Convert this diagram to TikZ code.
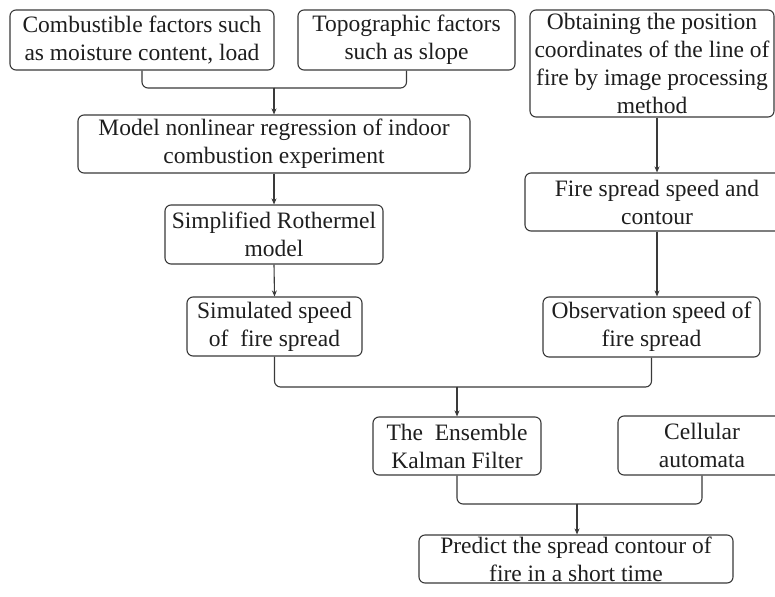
\documentclass[tikz,border=0pt]{standalone}
\usepackage{fontspec}
\setmainfont{Liberation Serif}
\usetikzlibrary{arrows.meta}
\definecolor{ln}{HTML}{3A3A3A}
\definecolor{tx}{HTML}{1E1E1E}
\begin{document}
\begin{tikzpicture}[x=1pt,y=-1pt,
  box/.style={draw=ln, line width=1.1pt, rounded corners=6pt, align=center,
    text=tx, font=\fontsize{23.5}{28}\selectfont, inner sep=0pt},
  conn/.style={draw=ln, line width=1.1pt, rounded corners=6pt},
  arr/.style={conn, -{Stealth[length=6pt,width=5pt]}}]
\useasboundingbox (0,0) rectangle (775,596);
\clip (0,0) rectangle (775,596);
\fill[white] (0,0) rectangle (775,596);
\node[box, minimum width=264pt, minimum height=60pt] (b1) at (142,40) {Combustible factors such\\as moisture content, load};
\node[box, minimum width=217pt, minimum height=60pt] (b2) at (406.5,40) {Topographic factors\\such as slope};
\node[box, minimum width=244pt, minimum height=107pt] (b3) at (652,63.5) {Obtaining the position\\coordinates of the line of\\fire by image processing\\method};
\node[box, minimum width=392pt, minimum height=58pt] (b4) at (274,144) {Model nonlinear regression of indoor\\combustion experiment};
\node[box, minimum width=218pt, minimum height=59pt] (b5) at (274,234.5) {Simplified Rothermel\\model};
\node[box, minimum width=175pt, minimum height=59pt] (b6) at (274.5,326.5) {Simulated speed\\of\ \ fire spread};
\node[box, minimum width=264pt, minimum height=58pt] (b10) at (657,202) {Fire spread speed and\\contour};
\node[box, minimum width=217pt, minimum height=60pt] (b11) at (651.5,327) {Observation speed of\\fire spread};
\node[box, minimum width=168pt, minimum height=58pt] (b7) at (457,446) {The\ \ Ensemble\\Kalman Filter};
\node[box, minimum width=168pt, minimum height=59pt] (b8) at (702,445.5) {Cellular\\automata};
\node[box, minimum width=314pt, minimum height=48pt] (b9) at (576,559) {Predict the spread contour of\\fire in a short time};
\coordinate (j1) at (274,88);
\coordinate (j2) at (457,387);
\coordinate (j3) at (577,504);
\draw[conn] (b1.south) |- (j1);
\draw[conn] (b2.south) |- (j1);
\draw[arr] (j1) -- (b4.north);
\draw[arr] (b4.south) -- (b5.north);
\draw[arr] (b5.south) -- (b6.north);
\draw[arr] (b10.north |- b3.south) -- (b10.north);
\draw[arr] (b10.south) -- (b10.south |- b11.north);
\draw[conn] (b6.south) |- (j2);
\draw[conn] (b11.south) |- (j2);
\draw[arr] (j2) -- (b7.north);
\draw[conn] (b7.south) |- (j3);
\draw[conn] (b8.south) |- (j3);
\draw[arr] (j3) -- (b9.north -| j3);
\end{tikzpicture}
\end{document}
